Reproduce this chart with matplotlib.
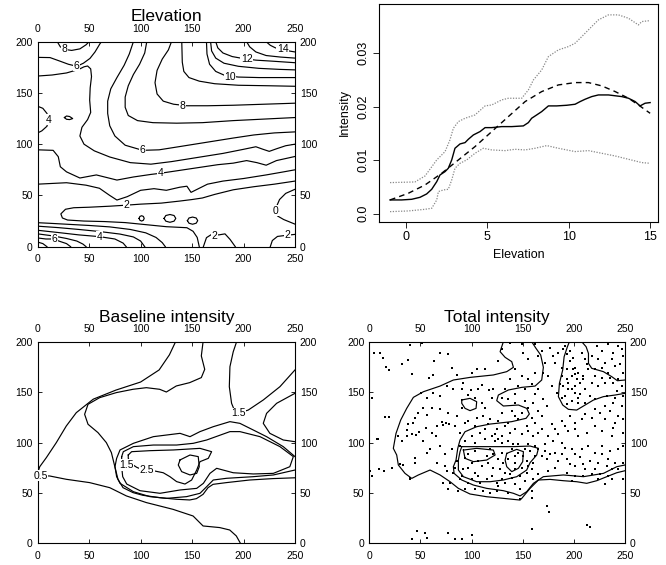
import matplotlib
matplotlib.use("Agg")
import matplotlib.pyplot as plt

plt.rcParams['font.family'] = ['Liberation Sans', 'DejaVu Sans']

# ---------------- Elevation contours: (x, y) along each line ----------------
elev_14 = [(222, 200), (226, 196.5), (231, 194), (238, 192.5), (244, 191), (250, 190)]
elev_13 = [(203, 200), (206, 195), (212, 190), (222, 186.5), (236, 185), (250, 184)]
elev_12 = [(173, 200), (175, 194), (180, 189), (189, 185.5), (200, 183.5), (212, 182), (228, 181), (250, 179.5)]
elev_11 = [(168, 200), (169, 191), (173, 184), (181, 179), (195, 176), (215, 174), (235, 173), (250, 172.5)]
elev_10 = [(164, 200), (164.5, 188), (167, 178), (173, 171), (182, 167), (195, 165.5), (215, 165), (250, 165)]
elev_9 = [(140, 200), (140.5, 180), (142, 171), (147, 165), (157, 161.5), (172, 159), (195, 157.5), (225, 157), (250, 156.5)]
elev_8 = [(130, 200), (127, 192), (121, 183), (116, 172), (114, 160), (116, 149), (122, 142), (132, 139),
          (145, 137.5), (165, 137.5), (190, 138), (220, 139), (250, 140)]
elev_7 = [(106, 200), (104, 189), (99, 178), (93, 168), (88, 157), (85, 146), (85, 136), (88, 128), (97, 123),
          (112, 121), (135, 120.5), (160, 121), (190, 123), (220, 124.5), (250, 126)]
elev_6 = [(93, 200), (89, 188), (84, 177), (77, 165), (71, 154), (68, 142), (68, 130), (70, 118), (75, 108),
          (85, 99), (102, 94), (118, 94.5), (140, 98), (165, 102), (190, 106), (210, 109), (230, 111), (250, 112)]
elev_6_left = [(0, 184.7), (12, 184.5), (21.7, 181), (29.8, 178), (38, 176), (44.4, 179), (50.8, 183.7),
               (55.7, 190), (60.5, 198), (62, 200)]
elev_8_left = [(19, 200), (22, 195), (26, 192.5), (33, 191.5), (41, 193), (47, 197), (50, 200)]
elev_5 = [(0, 166.5), (14, 167.5), (28, 169.5), (40, 173), (45, 175.5), (48.5, 176.3), (51.5, 173.5), (52.3, 166),
          (51, 155), (50.5, 143), (51.5, 131), (48.5, 124), (43, 116.5), (41, 108), (45, 100), (55, 93.5),
          (70, 87.5), (90, 82), (110, 80.5), (130, 83), (155, 87), (180, 91), (200, 95), (212, 97.5),
          (219, 95), (225, 93), (232, 95.5), (241, 98.5), (250, 100)]
elev_4_bump = [(0, 137), (5, 135), (9, 130), (10.5, 124), (9, 117.5), (4, 113), (0, 111)]
elev_4 = [(0, 94.5), (15, 94), (20, 87.8), (22, 78), (28, 73), (41, 67), (57, 70), (77, 65), (93, 68),
          (110, 70.5), (119, 71.6), (135, 74), (155, 77), (175, 80), (190, 81.5), (203, 84), (213, 82),
          (222, 79.5), (232, 84), (250, 88)]
elev_3 = [(0, 61), (28, 62.4), (47, 60), (60, 57), (70, 50), (77, 45.5), (87, 48.8), (100, 55), (113, 56.6),
          (125, 55), (138, 58), (145, 59), (149, 53), (155, 56), (165, 61), (180, 64), (200, 66.5), (222, 70),
          (239, 73), (250, 75)]
elev_2 = [(250, 64), (230, 61), (210, 58.5), (190, 55.5), (172, 51), (160, 47.5), (150, 46), (138, 44.5),
          (120, 42.5), (100, 41.5), (86, 40.5), (70, 39.5), (50, 38.5), (35, 38), (27, 36.5), (22.5, 32),
          (24, 28), (29, 26), (45, 25), (65, 24.5), (85, 23.5), (105, 21.5), (125, 19.5), (145, 18.5),
          (151, 15), (155, 9), (157, 0)]
elev_0 = [(250, 56), (241, 52), (235, 46), (232, 39), (231.5, 34), (233, 30), (239, 26.5), (250, 22)]
elev_2_bump = [(161, 0), (164, 8.8), (169, 12), (176, 11.5), (182, 12.5), (187, 7), (192, 0)]
elev_2_corner = [(226, 0), (228, 6), (233, 10), (241, 11), (250, 12)]
elev_low_a = [(0, 23.4), (12, 22.8), (30, 21.8), (50, 20.7), (70, 19.3), (90, 16.8), (105, 13.5), (115, 9),
              (121, 4), (124, 0)]
elev_low_b = [(0, 20), (20, 18.6), (40, 16.8), (60, 14.8), (80, 12.3), (93, 9.5), (100, 5.5), (104, 0)]
elev_low_c = [(0, 16), (20, 13.8), (40, 11.5), (60, 9.8), (75, 7.5), (83, 3.5), (86, 0)]
elev_low_d = [(0, 12.5), (15, 10.5), (28, 8), (38, 5.5), (44, 2.5), (47, 0)]
elev_low_e = [(0, 8.5), (8, 7.5), (15, 7.5), (22, 5), (28, 3), (32, 0)]
elev_low_f = [(0, 4.5), (5, 3), (9, 0)]
elev_loop = [(26, 126), (28, 127.5), (31, 127), (34, 125), (31, 124), (28, 124.3), (26, 126)]
elev_oval_a = [(98.5, 27.6), (99.3, 29.5), (101, 30.2), (102.7, 29.5), (103.5, 27.6), (102.7, 25.8), (101, 25),
               (99.3, 25.8), (98.5, 27.6)]
elev_oval_b = [(122.8, 27.6), (124.5, 30.4), (128.5, 31.4), (132.5, 30.4), (134.2, 27.6), (132.5, 24.9),
               (128.5, 23.8), (124.5, 24.9), (122.8, 27.6)]
elev_oval_c = [(145.5, 25.4), (147, 28), (150.5, 28.9), (154, 28), (155.5, 25.4), (154, 22.9), (150.5, 21.9),
               (147, 22.9), (145.5, 25.4)]
elev_labels = [("14", 238, 192.5), ("12", 203, 183.5), ("10", 187, 166), ("8", 141, 137.5), ("6", 102, 94),
               ("4", 119, 71.6), ("2", 86, 40.5), ("0", 231.5, 35), ("2", 172, 10.5), ("2", 243, 11),
               ("4", 60, 9.8), ("6", 16, 7.5), ("4", 10.5, 124), ("6", 38, 176.5), ("8", 26, 192.5)]

# ---------------- Intensity against elevation ----------------
smooth_x = [-0.98, -0.27, 0.35, 0.86, 1.27, 1.58, 1.89, 2.09, 2.40, 2.60, 2.81, 3.01, 3.32, 3.63, 3.83, 4.14,
            4.55, 4.86, 5.27, 5.88, 6.50, 7.21, 7.52, 7.72, 8.03, 8.34, 8.75, 9.26, 9.88, 10.39, 10.70, 11.0,
            11.41, 11.82, 12.44, 13.26, 13.67, 14.08, 14.38, 14.69, 15.0]
smooth_y = [2.57, 2.57, 2.69, 3.06, 3.69, 4.56, 5.99, 7.24, 7.87, 8.49, 10.05, 12.23, 13.04, 13.29, 13.91,
            14.72, 15.35, 16.09, 16.09, 16.28, 16.28, 16.41, 17.03, 17.84, 18.46, 19.09, 20.15, 20.15, 20.27,
            20.46, 20.96, 21.39, 21.89, 22.2, 22.2, 21.89, 21.58, 20.96, 20.15, 20.65, 20.77]
fit_x = [-0.98, 0.14, 1.17, 2.19, 3.22, 4.24, 5.27, 6.29, 7.32, 8.34, 9.36, 10.39, 11.21, 12.03, 12.85, 13.67,
         14.28, 15.0]
fit_y = [2.57, 3.81, 5.37, 7.55, 10.05, 12.54, 15.35, 18.15, 20.96, 22.83, 24.07, 24.51, 24.51, 23.89, 22.83,
         21.58, 20.33, 18.77]
upper_x = [-0.98, 0.55, 1.17, 1.89, 2.40, 2.70, 2.91, 3.22, 3.63, 4.24, 4.86, 5.27, 5.88, 6.29, 7.11, 7.52,
           7.83, 8.34, 8.75, 9.36, 9.98, 10.39, 10.80, 11.41, 11.82, 12.44, 13.05, 13.67, 14.28, 14.49, 15.0]
upper_y = [5.81, 5.93, 7.05, 10.05, 11.61, 13.79, 15.97, 17.22, 17.84, 18.46, 20.15, 20.33, 21.27, 21.58,
           21.58, 23.14, 25.01, 26.88, 29.37, 30.62, 31.24, 31.87, 33.11, 34.98, 36.23, 37.17, 37.17, 36.54,
           35.29, 35.92, 36.1]
lower_x = [-0.98, 0.14, 1.17, 1.58, 1.89, 1.99, 2.30, 2.60, 2.81, 3.01, 3.32, 3.73, 4.24, 4.75, 5.27, 6.09,
           6.70, 7.32, 7.93, 8.65, 9.36, 10.39, 11.21, 12.03, 12.85, 13.67, 14.49, 15.0]
lower_y = [0.38, 0.51, 0.82, 1.01, 2.57, 4.13, 4.44, 4.56, 6.31, 8.49, 9.42, 10.05, 11.29, 12.23, 11.92,
           11.79, 12.04, 11.92, 12.23, 12.73, 12.23, 11.61, 11.79, 11.29, 10.79, 10.17, 9.55, 9.42]

# ---------------- Baseline intensity contours ----------------
base_05 = [(134, 200), (128, 187), (118, 172), (100, 160), (76, 152), (54, 143), (37.5, 129.6), (27.8, 116.4),
           (18.1, 99.9), (8.4, 85), (2, 76), (0, 70), (3, 67), (11.6, 66.8), (27.8, 63.5), (50.5, 60.2),
           (70, 55.2), (86.2, 47), (105.6, 40.4), (131.5, 33.7), (151, 27.1), (160.7, 17.2), (176.9, 15.6),
           (186.6, 13.2), (193, 7.3), (197, 0)]
base_10 = [(160.7, 200), (159, 185.9), (162.3, 172.6), (159, 164.4), (147.7, 159.4), (134.7, 156.1),
           (125, 150.1), (118.5, 152.8), (105.6, 154.4), (92.6, 152.8), (76.4, 149.5), (60.2, 144.5),
           (48.9, 137.9), (45.6, 128), (48.9, 118.1), (58.6, 109.8), (66.7, 99.9), (71.6, 90), (74.8, 76.7),
           (78, 63.5), (82.9, 55.2), (92.6, 50.3), (102.3, 47.6), (118.5, 45.3), (134.7, 43.7), (147.7, 43),
           (154.2, 44.3), (160.7, 48.6), (165.5, 55.2), (170.4, 58.5), (183.3, 60.2), (206, 62.8),
           (228.7, 64.2), (250, 65)]
base_15_top = [(193.3, 200), (190, 190), (186.8, 175.2), (186.2, 155.4), (188.4, 138.9), (191.7, 130.6),
               (195, 129), (204.6, 132.2), (219.2, 142.2), (235.4, 155.4), (250, 172)]
base_bulge = [(250, 148.8), (232.2, 138.9), (222.4, 128.9), (219.2, 119), (225.6, 109.1), (238.6, 102.5),
              (250, 100.8)]
base_15 = [(250, 86), (238.6, 95.9), (222.4, 105.8), (209.5, 112.4), (196.5, 119), (186.8, 120.7),
           (170.6, 115.7), (157.7, 110.8), (148, 105.8), (138.3, 109.1), (112.4, 105.8), (93, 99.2), (80, 92.6),
           (76.7, 84.3), (75.1, 76), (76.7, 66.1), (80, 59.5), (93, 51.2), (109, 46.3), (125.3, 44.6),
           (144.7, 46.3), (157.7, 49.6), (164.2, 56.2), (170.6, 62.8), (183.6, 64.5), (209.5, 66.1),
           (229, 67.8), (250, 72.7)]
base_20 = [(81.6, 86), (83.2, 90.9), (93, 95.9), (112.4, 97.5), (135, 97.5), (151.2, 99.2), (164.2, 102.5),
           (186.8, 110.8), (196.5, 110.8), (216, 105.8), (235.4, 95.9), (248.4, 86), (245, 76), (229, 69.4),
           (209.5, 68.8), (190, 70), (173.9, 74.4), (167.4, 69.4), (161, 59.5), (154.5, 54.5), (138.3, 52.9),
           (118.8, 49.6), (99.4, 52.2), (86.5, 58.8), (82.6, 66.1), (81.6, 76), (81.6, 86)]
base_25 = [(88, 87.6), (91.3, 90.9), (109, 91.9), (131.8, 92.6), (157.7, 94.2), (169, 90.9), (165.8, 84.3),
           (157.7, 81), (154.5, 72.7), (149.6, 62.8), (143.1, 58.8), (135, 61.2), (128.5, 66.1), (122, 70),
           (112.4, 72), (102.6, 72.7), (96.2, 75.4), (91.3, 78.7), (88, 84.3), (88, 87.6)]
base_30 = [(138.3, 82.7), (148, 87.6), (156, 86), (157, 76), (154.5, 69.4), (148, 67.8), (139.9, 71.1),
           (136.6, 77.7), (138.3, 82.7)]
base_labels = [("0.5", 3, 67), ("1.5", 86.5, 77.7), ("2.5", 106, 72.7), ("1.5", 195, 129)]

# ---------------- Total intensity: events and contours ----------------
event_xy = [
    (4.9, 188.5), (10.5, 188.5), (13.7, 183.5), (16, 175.3), (19.3, 172), (31.7, 177.6), (38.2, 181.9),
    (39.8, 196.4), (51.2, 199.1), (63.6, 180.9), (69.2, 188.5), (77.3, 187.5), (81.2, 174.3), (41.4, 167.7),
    (58.7, 164.4), (62.6, 166.7), (85.5, 166.7), (100.1, 169.3), (105, 172.6), (113.2, 172.6), (2.3, 144.5),
    (15.4, 125.7), (19.3, 125.7), (7.2, 103.8), (50.6, 149.5), (62.6, 149.5), (56.1, 144.5), (69.2, 146.2),
    (75.7, 156.1), (82.2, 153.5), (90.3, 152.8), (99.5, 152.1), (106.6, 152.8), (110.6, 157.1),
    (117.1, 152.1), (121.3, 152.8), (120.3, 144.5), (113.2, 134.6), (103.4, 144.5), (96.2, 146.8),
    (90.3, 134.6), (85.5, 126.3), (77.3, 129), (70.8, 120.4), (74.7, 119.1), (78, 118.1), (69.2, 133),
    (61, 134.6), (56.1, 127), (52.8, 134.6), (48, 129.6), (44.7, 124.7), (43.1, 119.1), (38.2, 118.1),
    (36.6, 112.4), (41.4, 108.1), (45.4, 107.2), (48.6, 110.5), (55.1, 114.8), (61, 109.1), (64.9, 106.5),
    (65.9, 116.4), (72.4, 117.1), (83.8, 116.4), (88.7, 109.8), (108.3, 109.8), (113.2, 113.1),
    (119.7, 106.5), (123, 108.1), (118.1, 123), (111.5, 126.3), (105, 124.7), (96.9, 121.4), (28.4, 106.5),
    (36.5, 106.5), (110, 139.6), (92, 159.4),
    (126.2, 180.9), (129.4, 192.5), (137.6, 199.1), (149, 197.4), (150.6, 189.2), (155.5, 182.6),
    (162, 197.4), (165.3, 185.9), (168.5, 190.8), (171.8, 179.2), (176.7, 194.1), (180, 185.9),
    (181.6, 179.2), (184.8, 189.2), (188.1, 174.3), (191.4, 195.8), (196.3, 190.8), (199.5, 184.2),
    (201.1, 174.3), (204.4, 169.3), (197.9, 166), (193, 162.7), (189.7, 156.1), (194.6, 152.8),
    (201.1, 156.1), (206, 159.4), (209.3, 166), (212.5, 177.6), (217.4, 185.9), (222.3, 195.8),
    (227.2, 190.8), (233.7, 197.4), (238.6, 189.2), (243.5, 195.8), (248.4, 185.9), (246.8, 192.5),
    (240.3, 175.9), (233.7, 169.3), (227.2, 174.3), (220.7, 166), (217.4, 159.4), (210.9, 152.8),
    (215.8, 146.2), (224, 156.1), (230.5, 159.4), (235.4, 164.4), (243.5, 162.7), (248, 169.3),
    (248, 146), (241.9, 151.1), (204.4, 139.6), (197.9, 141.2), (193, 137.9), (188.1, 144.5),
    (183.2, 149.5), (178.3, 156.1), (175.1, 166), (170.2, 169.3), (162, 169.3), (155.5, 162.7),
    (149, 166), (142.5, 172.6), (137.6, 162.7), (132.7, 152.8), (129.4, 144.5), (135.9, 142.9),
    (142.5, 147.8), (152.2, 152.8), (162, 147.8), (170.2, 142.9), (173.4, 136.3), (165.3, 131.3),
    (155.5, 134.6), (149, 129.6), (139.2, 131.3), (129.4, 129.6), (126.2, 121.4), (135.9, 119.7),
    (145.7, 123), (153.9, 116.4), (162, 119.7), (168.5, 113.1), (178.3, 118.1), (188.1, 121.4),
    (196.3, 126.3), (201.1, 119.7), (210.9, 128), (220.7, 133), (230.5, 136.3), (238.6, 139.6),
    (246.8, 136.3), (248.4, 123), (240.3, 119.7), (230.5, 123), (220.7, 116.4), (212.5, 109.8),
    (204.4, 106.5), (194.6, 111.5), (184.8, 108.1), (175.1, 106.5), (160.4, 106.5), (149, 108.1),
    (137.6, 109.8), (129.4, 106.5), (248.4, 109.8), (237, 106.5),
    (8.8, 103.1), (31.7, 101.4), (52.8, 101.4), (59.4, 93.2), (69.2, 96.5), (74, 88.2), (44.7, 84.9),
    (44.7, 79.9), (56.1, 89.9), (65.9, 79.9), (74, 76.6), (75.7, 71.7), (82.2, 70), (79, 60.1),
    (72.4, 60.1), (88.7, 96.5), (93.6, 101.4), (103.4, 99.8), (113.2, 103.1), (118.1, 93.2),
    (123, 101.4), (0.5, 72), (3, 66.7), (9.5, 73.3), (14.7, 71.7), (21.9, 75), (30, 78.3), (33.3, 77.3),
    (39.8, 65.1), (39.8, 63.4), (93.6, 84.9), (96.9, 88.2), (92, 73.3), (96.9, 75), (103.4, 70),
    (109.9, 76.6), (116.4, 79.9), (121.3, 75), (90.3, 66.7), (100.1, 63.4), (108.3, 60.1), (119.7, 66.7),
    (93.6, 53.5), (103.4, 53.5), (111.5, 51.8), (118.1, 50.2), (46.3, 12.1), (54.5, 10.5), (56.1, 5.5),
    (41.4, 3.9), (77.3, 10.5), (83.8, 3.9), (90.3, 4.5), (100.1, 7.9), (100.1, 79.9),
    (126.2, 103.1), (135.9, 101.4), (180, 101.4), (188.1, 99.8), (191.4, 94.8), (181.6, 89.9),
    (171.8, 91.5), (168.5, 86.6), (173.4, 83.3), (184.8, 81.6), (193, 83.3), (201.1, 88.2),
    (207.7, 93.2), (214.2, 96.5), (220.7, 89.9), (227.2, 88.2), (233.7, 83.3), (232.1, 76.6),
    (223.9, 79.9), (215.8, 81.6), (209.3, 78.3), (201.1, 76.6), (193, 70), (201.1, 66.7), (210.9, 73.3),
    (217.4, 68.4), (225.6, 68.4), (233.7, 66.7), (243.5, 73.3), (248.4, 79.9), (248.4, 63.4),
    (237, 63.4), (230.5, 58.5), (223.9, 63.4), (197.9, 61.8), (139.2, 93.2), (142.5, 86.6),
    (145.7, 89.9), (150.6, 86.6), (153.9, 81.6), (155.5, 76.6), (149, 75), (142.5, 79.9), (135.9, 83.3),
    (131, 79.9), (126.2, 83.3), (127.8, 73.3), (132.7, 70), (137.6, 68.4), (142.5, 73.3), (147.3, 66.7),
    (153.9, 70), (158.8, 73.3), (160.4, 79.9), (162, 86.6), (165.3, 93.2), (157.1, 91.5), (155.5, 98.1),
    (145.7, 98.1), (129.4, 89.9), (126.2, 56.8), (132.7, 60.1), (142.5, 58.5), (147.3, 53.5),
    (135.9, 50.2), (147.3, 43.6), (158.8, 51.8), (158.8, 45.2), (173.4, 37), (176, 31), (158.8, 13.8),
    (212.5, 17.8), (215.8, 16.5),
    (189.7, 192.5), (193, 187.5), (196.3, 180.9), (199.5, 172.6), (201.1, 167.7), (202.8, 162.7),
    (193, 172.6), (194.6, 159.4), (197.9, 152.8), (201.1, 149.5), (204.4, 144.5), (207.7, 189.2),
    (210.9, 182.6), (214.2, 172.6), (209.3, 162.7), (206, 147.8), (191.4, 146.2), (188.1, 166),
    (186.5, 157.7), (224, 182.6), (230.5, 179.2), (237, 182.6), (245.2, 177.6), (220.7, 172.6),
    (227.2, 164.4), (238.6, 159.4), (246.8, 156.1), (220.7, 142.9), (232.1, 146.2), (240.3, 144.5),
    (210.9, 139.6), (145.7, 156.1), (158.8, 157.7), (165.3, 152.8), (142.5, 139.6), (152.2, 141.2),
    (160.4, 139.6), (168.5, 126.3), (158.8, 124.7), (142.5, 126.3), (132.7, 116.4), (142.5, 113.1),
    (155.5, 111.5), (165.3, 109.8), (181.6, 113.1), (191.4, 116.4), (201.1, 113.1), (207.7, 123),
    (217.4, 124.7), (225.6, 129.6), (235.4, 131.3), (243.5, 126.3), (227.2, 111.5), (238.6, 114.8),
    (129.4, 99.8), (140.8, 98.1), (152.2, 93.2), (162, 96.5), (171.8, 98.1), (176.7, 88.2), (188.1, 88.2),
    (197.9, 93.2), (206, 85.9), (196.3, 78.3), (181.6, 75), (175.1, 71.7), (165.3, 68.4), (160.4, 63.4),
    (152.2, 61.8), (139.2, 65.1), (129.4, 63.4), (209.3, 66.7), (220.7, 73.3), (237, 73.3), (240.3, 79.9),
    (227.2, 96.5), (235.4, 91.5), (243.5, 93.2), (248.4, 96.5),
    (80.6, 93.2), (85.5, 81.6), (83.8, 75), (88.7, 63.4), (96.9, 60.1), (106.6, 66.7), (114.8, 63.4),
    (124.6, 60.1), (106.6, 81.6), (114.8, 86.6), (121.3, 88.2), (103.4, 91.5), (77.3, 53.5), (87.1, 51.8),
    (124.6, 51.8), (93.6, 119.7), (103.4, 116.4), (116.4, 118.1), (124.6, 113.1), (100.1, 106.5)]

total_outer = [(131.1, 200), (127.9, 190.1), (132.8, 184.5), (139.3, 180.2), (140.9, 174.6), (134.4, 170.3),
               (121.3, 167), (98.5, 164.6), (82.2, 162), (69.2, 156), (52.9, 150.4), (43.1, 144.8),
               (36.6, 133.9), (30.7, 122.3), (26.1, 109), (23.5, 94.2), (26.8, 87.6), (28.4, 77.7),
               (34.9, 69.4), (41.5, 64.4), (48, 67.8), (59.4, 72.7), (69.2, 67.8), (79, 61.1), (87.1, 54.5),
               (98.5, 48.9), (114.8, 46.2), (131.1, 44.6), (147.4, 42.9), (149.1, 44.6), (157.2, 54.5),
               (165.4, 62.8), (176.8, 63.4), (189.8, 62.1), (202.8, 61.1), (212.6, 59.5), (222.4, 62.1),
               (232.2, 66.1), (241.9, 70), (250, 72)]
total_mid = [(158.8, 200), (163, 193.4), (167.6, 186.8), (170.2, 174.6), (168.6, 162), (162.1, 156),
             (149, 154.7), (136, 152.1), (126.2, 147.1), (124.6, 141.5), (131.1, 136.2), (145.8, 137.2),
             (153.9, 133.9), (156.5, 128.3), (153.3, 124), (139.3, 120.7), (118.1, 118.3), (105, 115.7),
             (93.6, 110.7), (88.7, 102.5), (86.5, 94.2), (84.8, 82.6), (82.2, 76), (82.9, 69.4), (90.4, 62.8),
             (101.8, 57.8), (114.8, 54.5), (131.1, 52.2), (140.9, 49.6), (147.4, 47), (153.9, 51.2),
             (160.5, 59.5), (170.2, 66.1), (189.8, 67.8), (209.4, 66.1), (229, 69.4), (242, 76), (250, 77.7)]
total_inner = [(90.4, 95.9), (114.8, 95.9), (140.9, 95.9), (157.2, 96.5), (165.4, 94.2), (163.7, 87.6),
               (157.2, 80), (153.9, 72.7), (144.2, 66.1), (131.1, 62.8), (118.1, 61.1), (105, 61.1), (92, 66.1),
               (87.1, 72.7), (87.1, 82.6), (88.7, 90.9), (90.4, 95.9)]
total_loop_a = [(92, 92.5), (105, 94.2), (121.3, 92.5), (123, 87.6), (114.8, 82.6), (101.8, 81), (93.6, 84.3),
                (92, 92.5)]
total_loop_b = [(134.4, 89.2), (144.2, 93.2), (150.7, 90.9), (150, 81), (145.8, 74.4), (139.3, 71.1),
                (134.4, 76), (132.8, 82.6), (134.4, 89.2)]
total_loop_c = [(90.4, 142.2), (98.5, 143.8), (105, 140.5), (104.4, 133.9), (98.5, 131.6), (93.6, 133.9),
                (90.4, 138.9), (90.4, 142.2)]
total_right = [(250, 148.8), (240.3, 147.1), (228.9, 145.5), (219.1, 142.1), (209.4, 136.2), (202.8, 132.2),
               (194.7, 132.9), (189.1, 137.2), (184.9, 145.5), (185.9, 158.7), (189.1, 171.9), (190.5, 185.1),
               (193.7, 195), (195.7, 200)]
total_corner = [(207.7, 200), (212, 195), (214.3, 188.4), (214.3, 178.5), (217.5, 173.6), (228.9, 170.3),
                (237.1, 165.3), (242.6, 161.3), (250, 162)]


def map_axes(ax, title):
    ax.set_xlim(0, 250)
    ax.set_ylim(0, 200)
    ax.set_xticks([0, 50, 100, 150, 200, 250])
    ax.set_yticks([0, 50, 100, 150, 200])
    ax.tick_params(direction='in', length=3, width=0.6, labelsize=7.5,
                   top=True, right=True, labeltop=True, labelright=True)
    ax.tick_params(axis='x', pad=5.5)
    ax.tick_params(axis='y', pad=3.5)
    for s in ax.spines.values():
        s.set_linewidth(0.8)
    ax.text(0.5, 1.10, title, transform=ax.transAxes, ha='center', va='baseline', fontsize=12.5)


def draw_lines(ax, lines):
    for pts in lines:
        xs, ys = zip(*pts)
        ax.plot(xs, ys, color='black', lw=0.85, zorder=2)


def draw_labels(ax, labels):
    for s, x, y in labels:
        ax.text(x, y, s, fontsize=7.5, ha='center', va='center', zorder=3,
                bbox=dict(boxstyle='square,pad=0.05', fc='white', ec='none'))


fig = plt.figure(figsize=(6.66, 5.65), dpi=100)

# Elevation
ax1 = fig.add_axes([0.0566, 0.5634, 0.3863, 0.3628])
draw_lines(ax1, [elev_14, elev_13, elev_12, elev_11, elev_10, elev_9, elev_8, elev_7, elev_6, elev_6_left,
                 elev_8_left, elev_5, elev_4_bump, elev_4, elev_3, elev_2, elev_0, elev_2_bump, elev_2_corner,
                 elev_low_a, elev_low_b, elev_low_c, elev_low_d, elev_low_e, elev_low_f, elev_loop,
                 elev_oval_a, elev_oval_b, elev_oval_c])
draw_labels(ax1, elev_labels)
map_axes(ax1, 'Elevation')

# Intensity vs elevation
ax2 = fig.add_axes([0.5695, 0.6076, 0.4189, 0.3853])
ax2.plot(smooth_x, [v / 1000 for v in smooth_y], color='black', lw=1.0)
ax2.plot(fit_x, [v / 1000 for v in fit_y], color='black', lw=1.0, ls=(0, (4, 3)))
ax2.plot(upper_x, [v / 1000 for v in upper_y], color='#888888', lw=0.9, ls=(0, (1, 1.2)))
ax2.plot(lower_x, [v / 1000 for v in lower_y], color='#888888', lw=0.9, ls=(0, (1, 1.2)))
ax2.set_xlim(-1.64, 15.5)
ax2.set_ylim(-0.0015, 0.0392)
ax2.set_xticks([0, 5, 10, 15])
ax2.set_yticks([0, 0.01, 0.02, 0.03])
ax2.set_yticklabels(['0.0', '0.01', '0.02', '0.03'], rotation=90, va='center')
ax2.tick_params(direction='out', length=4, width=0.6, labelsize=9, pad=3)
ax2.set_xlabel('Elevation', fontsize=9, labelpad=4)
ax2.set_ylabel('Intensity', fontsize=9, labelpad=5)
for s in ax2.spines.values():
    s.set_linewidth(0.8)

# Baseline intensity
ax3 = fig.add_axes([0.0566, 0.0384, 0.3863, 0.3568])
draw_lines(ax3, [base_05, base_10, base_15_top, base_bulge, base_15, base_20, base_25, base_30])
draw_labels(ax3, base_labels)
map_axes(ax3, 'Baseline intensity')

# Total intensity
ax4 = fig.add_axes([0.5545, 0.0384, 0.3839, 0.3568])
ex, ey = zip(*event_xy)
ax4.plot(ex, ey, ls='none', marker='s', ms=2.0, mew=0, color='black', zorder=3)
draw_lines(ax4, [total_outer, total_mid, total_inner, total_loop_a, total_loop_b, total_loop_c,
                 total_right, total_corner])
map_axes(ax4, 'Total intensity')

fig.savefig('out.png', dpi=100)
